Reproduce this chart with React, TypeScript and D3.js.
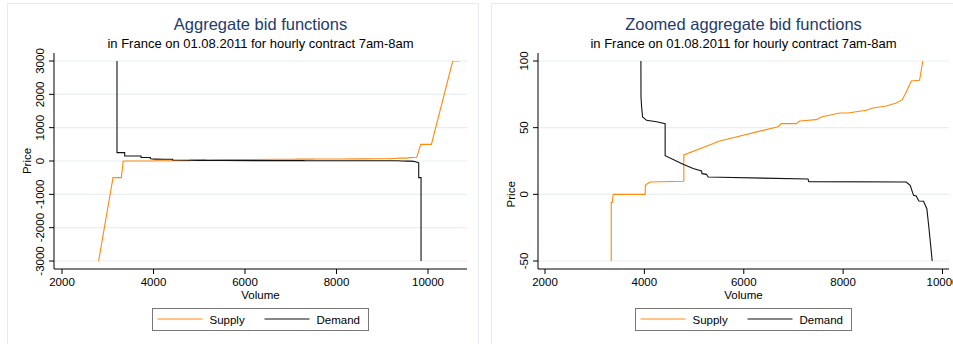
import React, { useEffect, useRef } from "react";
import * as d3 from "d3";

// aggregate curves (volume in MWh, price in EUR/MWh)
const supplyVolume = [2800, 3115, 3297, 3333, 3333, 3353, 3373, 4016, 4020, 4060, 4111, 4794, 4794, 5518, 6690, 6758, 7059, 7126, 7461, 7562, 7930, 8097, 8466, 8600, 8868, 9069, 9190, 9270, 9371, 9538, 9604, 9753, 9841, 10074, 10541, 10685];
const supplyPrice = [-3000, -500, -500, -60, -6, -6, 0, 0, 6.75, 8, 9.25, 9.75, 29.5, 40, 50.75, 53, 53, 55, 56, 58, 61, 61, 63, 64.75, 66.25, 68.5, 71, 76.75, 85, 85.5, 100, 110, 500, 500, 3000, 3000];

const demandVolume = [3202, 3202, 3370, 3370, 3727, 3727, 3930, 3930, 3932, 3945, 3964, 4044, 4245, 4418, 4418, 4780, 4981, 5150, 5160, 5250, 5283, 5518, 7293, 7310, 9270, 9350, 9417, 9471, 9524, 9618, 9685, 9725, 9793, 9797, 9797, 9848, 9848];
const demandPrice = [3000, 250, 250, 150, 150, 105, 105, 100, 73, 65.5, 58, 55.5, 54.5, 53, 29, 22.5, 19.3, 17.5, 15.5, 15, 13, 12.8, 11.5, 9.5, 9.25, 6.75, -0.75, -1.25, -5, -5.2, -10.8, -24.5, -50, -60, -500, -500, -3000];

const volumeTicks = [2000, 4000, 6000, 8000, 10000];
const fullPriceTicks = [-3000, -2000, -1000, 0, 1000, 2000, 3000];
const zoomPriceTicks = [-50, 0, 50, 100];

const titles = ["Aggregate bid functions", "Zoomed aggregate bid functions"];
const subtitle = "in France on 01.08.2011 for hourly contract 7am-8am";
const seriesNames = ["Supply", "Demand"];

const ORANGE = "#ff8a0d";
const NAVY = "#233a6b";
const GRID = "#e7eff0";
const FONT = "'Liberation Sans', Arial, Helvetica, sans-serif";

export default function App() {
    const svgRef = useRef(null);
    const width = 953;
    const height = 344;

    useEffect(() => {
        const svg = d3.select(svgRef.current);
        svg.selectAll("*").remove();

        const supply = supplyVolume.map((v, i) => [v, supplyPrice[i]]);
        const demand = demandVolume.map((v, i) => [v, demandPrice[i]]);

        const panels = [
            {
                frame: [7.5, 478.5],
                plot: { left: 54, right: 467, top: 53, bottom: 269 },
                xRange: [62, 428],
                yDomain: [-3000, 3000],
                yTicks: fullPriceTicks,
                title: titles[0]
            },
            {
                frame: [491.5, 1000],
                plot: { left: 538, right: 949, top: 53, bottom: 269 },
                xRange: [545, 942.5],
                yDomain: [-50, 100],
                yTicks: zoomPriceTicks,
                title: titles[1]
            }
        ];

        panels.forEach((p, idx) => {
            const g = svg.append("g");
            const { left, right, top, bottom } = p.plot;
            const cx = (left + right) / 2;

            const xScale = d3.scaleLinear().domain([2000, 10000]).range(p.xRange);
            const yScale = d3.scaleLinear().domain(p.yDomain).range([261, 61]);

            // graph region border
            g.append("rect")
                .attr("x", p.frame[0])
                .attr("y", 3.5)
                .attr("width", p.frame[1] - p.frame[0])
                .attr("height", 360)
                .attr("fill", "#fff")
                .attr("stroke", "#e3ecee");

            // gridlines
            g.selectAll(".grid")
                .data(p.yTicks)
                .join("line")
                .attr("x1", left)
                .attr("x2", right)
                .attr("y1", d => yScale(d))
                .attr("y2", d => yScale(d))
                .attr("stroke", GRID)
                .attr("stroke-width", 1.2);

            // clip to the price range shown
            const clipId = `clip-${idx}`;
            g.append("clipPath")
                .attr("id", clipId)
                .append("rect")
                .attr("x", left)
                .attr("y", yScale(p.yDomain[1]))
                .attr("width", right - left)
                .attr("height", yScale(p.yDomain[0]) - yScale(p.yDomain[1]));

            const line = d3.line()
                .x(d => xScale(d[0]))
                .y(d => yScale(d[1]));

            const curves = g.append("g").attr("clip-path", `url(#${clipId})`);
            curves.append("path")
                .attr("d", line(supply))
                .attr("fill", "none")
                .attr("stroke", ORANGE)
                .attr("stroke-width", 1.1);
            curves.append("path")
                .attr("d", line(demand))
                .attr("fill", "none")
                .attr("stroke", "#111")
                .attr("stroke-width", 1.1);

            // axes
            g.append("line")
                .attr("x1", left).attr("x2", left)
                .attr("y1", top).attr("y2", bottom)
                .attr("stroke", "#000");
            g.append("line")
                .attr("x1", left).attr("x2", right)
                .attr("y1", bottom).attr("y2", bottom)
                .attr("stroke", "#000");

            g.selectAll(".ytick")
                .data(p.yTicks)
                .join("line")
                .attr("x1", left - 5).attr("x2", left)
                .attr("y1", d => yScale(d)).attr("y2", d => yScale(d))
                .attr("stroke", "#000");

            g.selectAll(".ylabel")
                .data(p.yTicks)
                .join("text")
                .attr("transform", d => `translate(${left - 10},${yScale(d)}) rotate(-90)`)
                .attr("text-anchor", "middle")
                .style("font-family", FONT)
                .style("font-size", "11.5px")
                .text(d => d);

            g.selectAll(".xtick")
                .data(volumeTicks)
                .join("line")
                .attr("x1", d => xScale(d)).attr("x2", d => xScale(d))
                .attr("y1", bottom).attr("y2", bottom + 5)
                .attr("stroke", "#000");

            g.selectAll(".xlabel")
                .data(volumeTicks)
                .join("text")
                .attr("x", d => xScale(d))
                .attr("y", bottom + 17)
                .attr("text-anchor", "middle")
                .style("font-family", FONT)
                .style("font-size", "11.5px")
                .text(d => d);

            // axis titles
            g.append("text")
                .attr("x", cx)
                .attr("y", bottom + 30)
                .attr("text-anchor", "middle")
                .style("font-family", FONT)
                .style("font-size", "11.5px")
                .text("Volume");
            g.append("text")
                .attr("transform", `translate(${left - 23},${yScale(0)}) rotate(-90)`)
                .attr("text-anchor", "middle")
                .style("font-family", FONT)
                .style("font-size", "11.5px")
                .text("Price");

            // titles
            g.append("text")
                .attr("x", cx)
                .attr("y", 30)
                .attr("text-anchor", "middle")
                .attr("fill", NAVY)
                .style("font-family", FONT)
                .style("font-size", "16.5px")
                .text(p.title);
            g.append("text")
                .attr("x", cx)
                .attr("y", 48)
                .attr("text-anchor", "middle")
                .style("font-family", FONT)
                .style("font-size", "13px")
                .text(subtitle);

            // legend
            const lx = cx - 108;
            const ly = 308.5;
            g.append("rect")
                .attr("x", lx).attr("y", ly)
                .attr("width", 216).attr("height", 22)
                .attr("fill", "#fff")
                .attr("stroke", "#777");
            [ORANGE, "#111"].forEach((c, i) => {
                const x0 = lx + 5 + i * 107;
                g.append("line")
                    .attr("x1", x0).attr("x2", x0 + 45)
                    .attr("y1", ly + 10.5).attr("y2", ly + 10.5)
                    .attr("stroke", c)
                    .attr("stroke-width", 1.1);
                g.append("text")
                    .attr("x", x0 + 52)
                    .attr("y", ly + 15)
                    .style("font-family", FONT)
                    .style("font-size", "11.5px")
                    .text(seriesNames[i]);
            });
        });
    }, []);

    return (
        <svg
            ref={svgRef}
            width={width}
            height={height}
            style={{ position: "absolute", left: 0, top: 0, background: "#fff" }}
        />
    );
}
